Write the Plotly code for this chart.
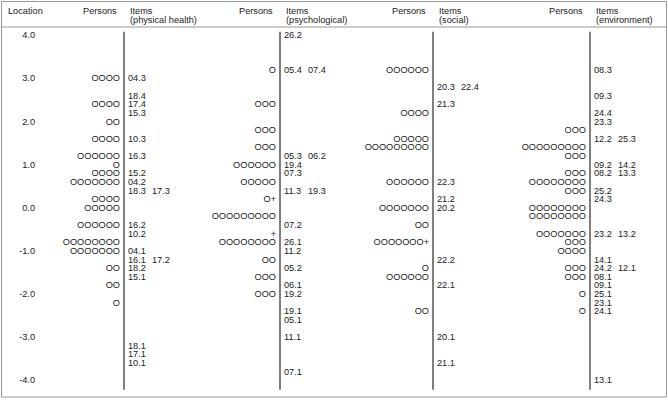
import plotly.graph_objects as go

# ---------------- data ----------------
tick_values = [4.0, 3.0, 2.0, 1.0, 0.0, -1.0, -2.0, -3.0, -4.0]

panel_titles = ["(physical health)", "(psychological)", "(social)", "(environment)"]

phys_person_loc = [3.0, 2.4, 2.0, 1.6, 1.2, 1.0, 0.8, 0.6, 0.2, 0.0, -0.4, -0.8, -1.0, -1.4, -1.8, -2.2]
phys_person_n = [4, 4, 2, 4, 6, 1, 4, 7, 4, 5, 6, 8, 7, 2, 2, 1]
phys_person_plus = [0] * 16
phys_item_loc = [3.0, 2.6, 2.4, 2.2, 1.6, 1.2, 0.8, 0.6, 0.4, 0.4, -0.4, -0.6, -1.0, -1.2, -1.2,
                 -1.4, -1.6, -3.2, -3.4, -3.6]
phys_item_label = ["04.3", "18.4", "17.4", "15.3", "10.3", "16.3", "15.2", "04.2", "18.3", "17.3",
                   "16.2", "10.2", "04.1", "16.1", "17.2", "18.2", "15.1", "18.1", "17.1", "10.1"]

psych_person_loc = [3.2, 2.4, 1.8, 1.4, 1.0, 0.6, 0.2, -0.2, -0.6, -0.8, -1.2, -1.6, -2.0]
psych_person_n = [1, 3, 3, 3, 6, 5, 1, 9, 0, 8, 2, 3, 3]
psych_person_plus = [0, 0, 0, 0, 0, 0, 1, 0, 1, 0, 0, 0, 0]
psych_item_loc = [4.0, 3.2, 3.2, 1.2, 1.2, 1.0, 0.8, 0.4, 0.4, -0.4, -0.8, -1.0, -1.4, -1.8, -2.0,
                  -2.4, -2.6, -3.0, -3.8]
psych_item_label = ["26.2", "05.4", "07.4", "05.3", "06.2", "19.4", "07.3", "11.3", "19.3", "07.2",
                    "26.1", "11.2", "05.2", "06.1", "19.2", "19.1", "05.1", "11.1", "07.1"]

social_person_loc = [3.2, 2.2, 1.6, 1.4, 0.6, 0.0, -0.4, -0.8, -1.4, -1.6, -2.4]
social_person_n = [6, 4, 5, 9, 6, 7, 2, 7, 1, 6, 2]
social_person_plus = [0, 0, 0, 0, 0, 0, 0, 1, 0, 0, 0]
social_item_loc = [2.8, 2.8, 2.4, 0.6, 0.2, 0.0, -1.2, -1.8, -3.0, -3.6]
social_item_label = ["20.3", "22.4", "21.3", "22.3", "21.2", "20.2", "22.2", "22.1", "20.1", "21.1"]

env_person_loc = [1.8, 1.4, 1.2, 0.8, 0.6, 0.4, 0.0, -0.2, -0.6, -0.8, -1.0, -1.4, -1.6, -2.0, -2.4]
env_person_n = [3, 9, 3, 3, 8, 3, 8, 8, 7, 3, 4, 3, 3, 1, 1]
env_person_plus = [0] * 15
env_item_loc = [3.2, 2.6, 2.2, 2.0, 1.6, 1.6, 1.0, 1.0, 0.8, 0.8, 0.4, 0.2, -0.6, -0.6, -1.2,
                -1.4, -1.4, -1.6, -1.8, -2.0, -2.2, -2.4, -4.0]
env_item_label = ["08.3", "09.3", "24.4", "23.3", "12.2", "25.3", "09.2", "14.2", "08.2", "13.3",
                  "25.2", "24.3", "23.2", "13.2", "14.1", "24.2", "12.1", "08.1", "09.1", "25.1",
                  "23.1", "24.1", "13.1"]

# ---------------- layout constants (pixels) ----------------
W, H = 668, 400
Y0_PX, PPU = 208.5, 43.125          # pixel of logit 0, pixels per logit
y_top = Y0_PX / PPU
y_bot = (Y0_PX - H) / PPU
line_x = [124, 280, 433, 590]
col_gap = 24
FONT = "Liberation Sans, Arial, sans-serif"
FS = 9.2
TXT = "#222222"

panels = [
    (phys_person_loc, phys_person_n, phys_person_plus, phys_item_loc, phys_item_label),
    (psych_person_loc, psych_person_n, psych_person_plus, psych_item_loc, psych_item_label),
    (social_person_loc, social_person_n, social_person_plus, social_item_loc, social_item_label),
    (env_person_loc, env_person_n, env_person_plus, env_item_loc, env_item_label),
]

fig = go.Figure()

# location tick labels
fig.add_trace(go.Scatter(
    x=[35] * len(tick_values), y=tick_values, mode="text",
    text=[f"{v:.1f}" for v in tick_values], textposition="middle left",
    textfont=dict(family=FONT, size=FS, color=TXT), hoverinfo="skip", showlegend=False))

shapes = []
annotations = []

def ypaper(px):
    return 1 - px / H

for i, (ploc, pn, pplus, iloc, ilab) in enumerate(panels):
    lx = line_x[i]
    # persons
    ptext = ["O" * n + "+" * p for n, p in zip(pn, pplus)]
    fig.add_trace(go.Scatter(
        x=[lx - 4] * len(ploc), y=ploc, mode="text", text=ptext,
        textposition="middle left",
        textfont=dict(family=FONT, size=FS, color=TXT), hoverinfo="skip", showlegend=False))
    # items, second item at same location goes in next column
    seen = {}
    xs = []
    for loc in iloc:
        c = seen.get(loc, 0)
        seen[loc] = c + 1
        xs.append(lx + 4 + c * col_gap)
    fig.add_trace(go.Scatter(
        x=xs, y=iloc, mode="text", text=ilab, textposition="middle right",
        textfont=dict(family=FONT, size=FS, color=TXT), hoverinfo="skip", showlegend=False))
    # vertical axis line
    shapes.append(dict(type="line", xref="x", yref="y", x0=lx, x1=lx, y0=4.1, y1=-4.2,
                       line=dict(color="#555555", width=1.5)))
    # headers
    annotations.append(dict(x=lx - 5, y=ypaper(11), xref="x", yref="paper", text="Persons",
                            showarrow=False, xanchor="right", yanchor="middle",
                            font=dict(family=FONT, size=FS, color=TXT)))
    annotations.append(dict(x=lx + 4, y=ypaper(11), xref="x", yref="paper", text="Items",
                            showarrow=False, xanchor="left", yanchor="middle",
                            font=dict(family=FONT, size=FS, color=TXT)))
    annotations.append(dict(x=lx + 4, y=ypaper(20), xref="x", yref="paper", text=panel_titles[i],
                            showarrow=False, xanchor="left", yanchor="middle",
                            font=dict(family=FONT, size=FS, color=TXT)))

annotations.append(dict(x=6, y=ypaper(11), xref="x", yref="paper", text="Location",
                        showarrow=False, xanchor="left", yanchor="middle",
                        font=dict(family=FONT, size=FS, color=TXT)))

# outer box and header separator
shapes.append(dict(type="rect", xref="x", yref="paper", x0=1.5, x1=666.5,
                   y0=ypaper(397), y1=ypaper(1.5), line=dict(color="#999999", width=1)))
shapes.append(dict(type="line", xref="x", yref="paper", x0=1.5, x1=666.5,
                   y0=ypaper(27), y1=ypaper(27), line=dict(color="#999999", width=1)))

fig.update_layout(
    width=W, height=H, margin=dict(l=0, r=0, t=0, b=0),
    paper_bgcolor="white", plot_bgcolor="white",
    xaxis=dict(range=[0, W], visible=False, fixedrange=True),
    yaxis=dict(range=[y_bot, y_top], visible=False, fixedrange=True),
    shapes=shapes, annotations=annotations, showlegend=False,
)

fig.write_html(
    "out.html",
    config={"displayModeBar": False},
    post_script="document.body.style.margin='0';document.body.style.overflow='hidden';",
)
